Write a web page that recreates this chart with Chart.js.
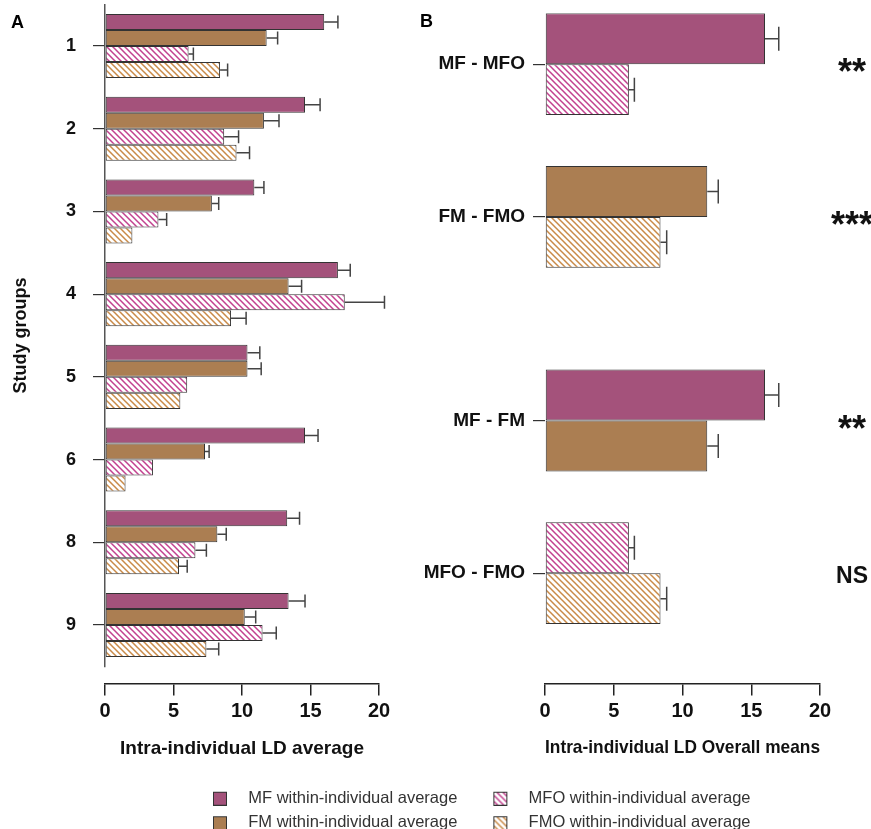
<!DOCTYPE html>
<html>
<head>
<meta charset="utf-8">
<script src="https://cdn.jsdelivr.net/npm/chart.js@4.4.1/dist/chart.umd.min.js"></script>
<style>
  html, body { margin: 0; padding: 0; background: #ffffff; width: 871px; height: 829px; overflow: hidden; }
  body { position: relative; }
  canvas { position: absolute; }
</style>
</head>
<body>
<canvas id="chartA" width="420" height="829" style="left:0px;top:0px"></canvas>
<canvas id="chartB" width="471" height="829" style="left:400px;top:0px"></canvas>
<canvas id="legend" width="680" height="110" style="left:177px;top:782px"></canvas>
<script>
// ---- data ----
const seriesKeys = ['MF', 'FM', 'MFO', 'FMO'];
const seriesNames = ['MF within-individual average', 'FM within-individual average',
    'MFO within-individual average', 'FMO within-individual average'];

// panel A: study groups
const groupLabels = ['1', '2', '3', '4', '5', '6', '8', '9'];
const mfAvg  = [16.0, 14.6, 10.9, 17.0, 10.4, 14.6, 13.3, 13.4];
const mfErr  = [1.0, 1.1, 0.7, 0.9, 0.9, 0.95, 0.9, 1.2];
const fmAvg  = [11.8, 11.6, 7.8, 13.4, 10.4, 7.3, 8.2, 10.2];
const fmErr  = [0.8, 1.1, 0.5, 0.95, 1.0, 0.3, 0.65, 0.8];
const mfoAvg = [6.1, 8.7, 3.9, 17.5, 6.0, 3.5, 6.6, 11.5];
const mfoErr = [0.35, 1.05, 0.6, 2.9, null, null, 0.8, 1.0];
const fmoAvg = [8.4, 9.6, 2.0, 9.2, 5.5, 1.5, 5.4, 7.4];
const fmoErr = [0.55, 0.95, null, 1.1, null, null, 0.6, 0.9];

// panel B: overall means (MF, FM, MFO, FMO)
const overallMeans = [16.0, 11.8, 6.1, 8.4];
const overallErr   = [1.0, 0.8, 0.4, 0.45];
const comparisonLabels = ['', 'MF - MFO', '', '', 'FM - FMO', '', '', '', 'MF - FM', '', '', 'MFO - FMO', ''];
const comparisonPairs = {
    'MF - MFO': ['MF', 'MFO'],
    'FM - FMO': ['FM', 'FMO'],
    'MF - FM': ['MF', 'FM'],
    'MFO - FMO': ['MFO', 'FMO']
};
const significance = ['**', '***', '**', 'NS'];

// legend shows MF, MFO on the first row and FM, FMO on the second
const legendRank = [0, 2, 1, 3];

// ---- styles ----
const MF_COLOR = '#a4527b';
const FM_COLOR = '#ab7e52';
const MFO_LINE = '#c2418f';
const FMO_LINE = '#c98a48';
const EDGE = '#333333';
const FONT = "'Liberation Sans', Arial, sans-serif";

Chart.defaults.font.family = FONT;
Chart.defaults.color = '#111';

function hatch(ctx, lineColor) {
    const t = document.createElement('canvas');
    t.width = 6;
    t.height = 6;
    const c = t.getContext('2d');
    c.fillStyle = '#ffffff';
    c.fillRect(0, 0, 6, 6);
    c.strokeStyle = lineColor;
    c.lineWidth = 1.5;
    c.beginPath();
    c.moveTo(0, 0); c.lineTo(6, 6);
    c.moveTo(5, -1); c.lineTo(7, 1);
    c.moveTo(-1, 5); c.lineTo(1, 7);
    c.stroke();
    return ctx.createPattern(t, 'repeat');
}

// error bars drawn from each bar's end through the x scale
const errorBarPlugin = {
    id: 'errorBars',
    afterDatasetsDraw(chart, args, opts) {
        const ctx = chart.ctx;
        const xScale = chart.scales.x;
        ctx.save();
        ctx.strokeStyle = '#444';
        ctx.lineWidth = 1.5;
        chart.data.datasets.forEach((ds, di) => {
            const meta = chart.getDatasetMeta(di);
            meta.data.forEach((bar, i) => {
                const v = ds.data[i];
                const e = ds.errors ? ds.errors[i] : null;
                if (v == null || !e) return;
                const xe = xScale.getPixelForValue(v + e);
                const h = opts.cap / 2;
                ctx.beginPath();
                ctx.moveTo(bar.x, bar.y);
                ctx.lineTo(xe, bar.y);
                ctx.moveTo(xe, bar.y - h);
                ctx.lineTo(xe, bar.y + h);
                ctx.stroke();
            });
        });
        ctx.restore();
    }
};

// panel letter
const panelTagPlugin = {
    id: 'panelTag',
    afterDraw(chart, args, opts) {
        const ctx = chart.ctx;
        ctx.save();
        ctx.fillStyle = '#000';
        ctx.font = 'bold 18px ' + FONT;
        ctx.textBaseline = 'middle';
        ctx.fillText(opts.text, opts.x, opts.y);
        ctx.restore();
    }
};

// significance marks to the right of panel B
const sigPlugin = {
    id: 'sigMarks',
    afterDraw(chart) {
        const ctx = chart.ctx;
        const yScale = chart.scales.y;
        ctx.save();
        ctx.fillStyle = '#111';
        ctx.textAlign = 'center';
        let k = 0;
        comparisonLabels.forEach((lab, i) => {
            if (!lab) return;
            const text = significance[k++];
            ctx.font = text === 'NS' ? 'bold 23px ' + FONT : 'bold 36px ' + FONT;
            const m = ctx.measureText(text);
            const cy = yScale.getPixelForValue(i) + 1;
            ctx.fillText(text, chart.chartArea.right + 32, cy + (m.actualBoundingBoxAscent - m.actualBoundingBoxDescent) / 2);
        });
        ctx.restore();
    }
};

// keep the category axis from pushing the plot area down
function fixWidth(w) {
    return s => {
        s.width = w;
        s.paddingTop = 0;
        s.paddingBottom = 0;
    };
}

const tickFont = { size: 20, weight: 'bold' };

// ---- panel A ----
const ctxA = document.getElementById('chartA').getContext('2d');
const fillsA = [MF_COLOR, FM_COLOR, hatch(ctxA, MFO_LINE), hatch(ctxA, FMO_LINE)];
const chartA = new Chart(ctxA, {
    type: 'bar',
    data: {
        labels: groupLabels,
        datasets: [
            { label: seriesNames[0], data: mfAvg, errors: mfErr, backgroundColor: fillsA[0] },
            { label: seriesNames[1], data: fmAvg, errors: fmErr, backgroundColor: fillsA[1] },
            { label: seriesNames[2], data: mfoAvg, errors: mfoErr, backgroundColor: fillsA[2] },
            { label: seriesNames[3], data: fmoAvg, errors: fmoErr, backgroundColor: fillsA[3] }
        ]
    },
    options: {
        indexAxis: 'y',
        responsive: false,
        animation: false,
        devicePixelRatio: 1,
        layout: { padding: { top: 4.6, right: 41, bottom: 162.6, left: 0 } },
        datasets: { bar: { categoryPercentage: 0.774, barPercentage: 1 } },
        elements: { bar: { borderColor: EDGE, borderWidth: 1, borderSkipped: false } },
        scales: {
            y: {
                offset: true,
                grid: { offset: false, drawOnChartArea: false, tickLength: 12, color: '#333', lineWidth: 1.2 },
                border: { color: '#555', width: 1.5 },
                ticks: { padding: 17, color: '#111', font: { size: 18, weight: 'bold' } },
                title: { display: true, text: 'Study groups', color: '#111', font: { size: 18, weight: 'bold' }, padding: { top: 10, bottom: 0 } },
                afterFit: fixWidth(105)
            },
            x: {
                axis: 'x',
                position: { y: 7.714 },
                min: 0,
                max: 20,
                ticks: { stepSize: 5, padding: 4, color: '#111', font: tickFont },
                grid: { drawOnChartArea: false, tickLength: 11, color: '#222', lineWidth: 1.5 },
                border: { color: '#222', width: 1.5 },
                title: { display: true, text: 'Intra-individual LD average', color: '#111', font: { size: 19, weight: 'bold' }, padding: { top: 10, bottom: 0 } }
            }
        },
        plugins: {
            legend: { display: false },
            tooltip: { enabled: false },
            errorBars: { cap: 13 },
            panelTag: { text: 'A', x: 11, y: 23 }
        }
    },
    plugins: [errorBarPlugin, panelTagPlugin]
});

// ---- panel B ----
function overallSeries(k) {
    return comparisonLabels.map(lab => (lab && comparisonPairs[lab].includes(seriesKeys[k])) ? overallMeans[k] : null);
}
function overallErrors(k) {
    return comparisonLabels.map(lab => (lab && comparisonPairs[lab].includes(seriesKeys[k])) ? overallErr[k] : null);
}

const ctxB = document.getElementById('chartB').getContext('2d');
const fillsB = [MF_COLOR, FM_COLOR, hatch(ctxB, MFO_LINE), hatch(ctxB, FMO_LINE)];
const chartB = new Chart(ctxB, {
    type: 'bar',
    data: {
        labels: comparisonLabels,
        datasets: seriesKeys.map((key, k) => ({
            label: seriesNames[k],
            data: overallSeries(k),
            errors: overallErrors(k),
            backgroundColor: fillsB[k]
        }))
    },
    options: {
        indexAxis: 'y',
        responsive: false,
        animation: false,
        devicePixelRatio: 1,
        layout: { padding: { top: 13.3, right: 51, bottom: 204.9, left: 0 } },
        datasets: { bar: { categoryPercentage: 2, barPercentage: 1, skipNull: true } },
        elements: { bar: { borderColor: EDGE, borderWidth: 1, borderSkipped: false } },
        scales: {
            y: {
                offset: false,
                grid: {
                    offset: false, drawOnChartArea: false, tickLength: 12, lineWidth: 1.2,
                    color: c => comparisonLabels[c.index] ? '#333' : 'rgba(0,0,0,0)'
                },
                border: { display: false },
                ticks: { autoSkip: false, padding: 8, color: '#111', font: { size: 19, weight: 'bold' } },
                afterFit: fixWidth(145)
            },
            x: {
                axis: 'x',
                position: { y: 13.177 },
                min: 0,
                max: 20,
                ticks: { stepSize: 5, padding: 4, color: '#111', font: tickFont },
                grid: { drawOnChartArea: false, tickLength: 11, color: '#222', lineWidth: 1.5 },
                border: { color: '#222', width: 1.5 },
                title: { display: true, text: 'Intra-individual LD Overall means', color: '#111', font: { size: 18.5, weight: 'bold' }, padding: { top: 10, bottom: 0 } }
            }
        },
        plugins: {
            legend: { display: false },
            tooltip: { enabled: false },
            errorBars: { cap: 24 },
            panelTag: { text: 'B', x: 20, y: 22 }
        }
    },
    plugins: [errorBarPlugin, panelTagPlugin, sigPlugin]
});

// ---- shared legend ----
function swatch(fill, lineColor) {
    const s = document.createElement('canvas');
    s.width = 55;
    s.height = 15;
    const c = s.getContext('2d');
    c.fillStyle = lineColor ? hatch(c, lineColor) : fill;
    c.fillRect(28.5, 1.5, 13, 13);
    c.strokeStyle = EDGE;
    c.lineWidth = 1;
    c.strokeRect(28.5, 1.5, 13, 13);
    return s;
}
const swatches = [swatch(MF_COLOR), swatch(FM_COLOR), swatch(null, MFO_LINE), swatch(null, FMO_LINE)];

const ctxL = document.getElementById('legend').getContext('2d');
const legendChart = new Chart(ctxL, {
    type: 'bar',
    data: {
        labels: [],
        datasets: seriesNames.map(name => ({ label: name, data: [] }))
    },
    options: {
        responsive: false,
        animation: false,
        devicePixelRatio: 1,
        scales: { x: { display: false }, y: { display: false } },
        plugins: {
            tooltip: { enabled: false },
            legend: {
                position: 'top',
                align: 'start',
                maxHeight: 80,
                labels: {
                    usePointStyle: true,
                    pointStyleWidth: 55,
                    padding: 8,
                    color: '#333',
                    font: { size: 16.5, weight: 'normal' },
                    sort: (a, b) => legendRank[a.datasetIndex] - legendRank[b.datasetIndex],
                    generateLabels: chart => Chart.defaults.plugins.legend.labels.generateLabels(chart)
                        .map(item => Object.assign(item, { pointStyle: swatches[item.datasetIndex] }))
                }
            }
        }
    }
});
</script>
</body>
</html>
